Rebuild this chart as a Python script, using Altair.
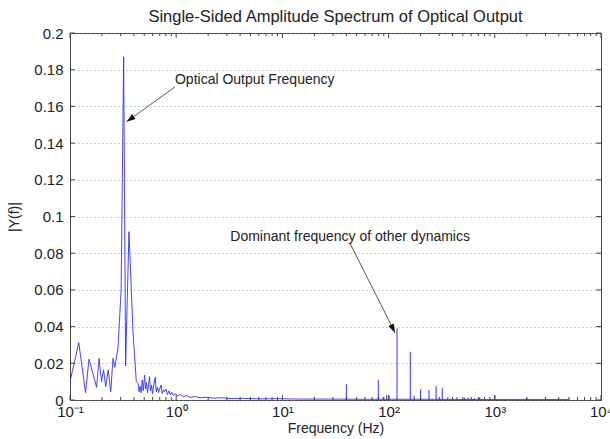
import altair as alt
import pandas as pd

# ---------------- data ----------------
# continuous part of the single-sided spectrum: frequency (Hz) and |Y(f)|
freq = [0.100, 0.121, 0.140, 0.151, 0.178, 0.188, 0.198, 0.207, 0.217, 0.229,
        0.242, 0.254, 0.264, 0.283, 0.303, 0.320, 0.334, 0.359, 0.392, 0.421,
        0.438, 0.447, 0.457, 0.467, 0.479, 0.490, 0.504, 0.515, 0.526, 0.537,
        0.549, 0.561, 0.573, 0.586, 0.599, 0.618, 0.635, 0.648, 0.667, 0.681,
        0.704, 0.722, 0.738, 0.759, 0.775, 0.801, 0.827, 0.854, 0.882, 0.911,
        0.941, 0.983, 1.026, 1.095, 1.168, 1.246, 1.358, 1.513, 1.685, 1.918,
        2.230, 2.650, 3.288, 4.351, 6.012, 9.254, 14.24, 27.20, 51.93, 189.3,
        690.2, 5000.0]
amp = [0.0100, 0.0312, 0.0040, 0.0222, 0.0069, 0.0227, 0.0100, 0.0164, 0.0073, 0.0164,
       0.0045, 0.0227, 0.0178, 0.0282, 0.0600, 0.1870, 0.0185, 0.0917, 0.0372, 0.0100,
       0.0090, 0.0045, 0.0075, 0.0040, 0.0109, 0.0050, 0.0136, 0.0060, 0.0095, 0.0040,
       0.0085, 0.0127, 0.0050, 0.0080, 0.0035, 0.0090, 0.0124, 0.0045, 0.0070, 0.0040,
       0.0065, 0.0082, 0.0035, 0.0055, 0.0045, 0.0060, 0.0030, 0.0050, 0.0028, 0.0042,
       0.0025, 0.0035, 0.0022, 0.0030, 0.0018, 0.0024, 0.0015, 0.0019, 0.0012, 0.0015,
       0.0010, 0.0012, 0.0008, 0.0009, 0.0006, 0.0007, 0.0005, 0.0005, 0.0004, 0.0004,
       0.0003, 0.0003]

# narrow spectral lines (harmonics of "other dynamics")
spike_freq = [40, 80, 89, 96, 101, 120, 160, 174, 200, 240, 280, 320,
              360, 400, 440, 520, 560, 640, 720, 800, 1000, 2000]
spike_amp = [0.0087, 0.0109, 0.0016, 0.0027, 0.0022, 0.0390, 0.0263, 0.0022, 0.0058,
             0.0055, 0.0076, 0.0064, 0.0014, 0.0012, 0.0015, 0.0012, 0.0013, 0.0011,
             0.0014, 0.0013, 0.0025, 0.0012]

# axes
x_major = [0.1, 1, 10, 100, 1000, 10000]
x_labels = ["10⁻¹", "10⁰", "10¹", "10²", "10³", "10⁴"]
x_minor = [m * d for d in [0.1, 1, 10, 100, 1000] for m in [2, 3, 4, 5, 6, 7, 8, 9]]
y_ticks = [0, 0.02, 0.04, 0.06, 0.08, 0.1, 0.12, 0.14, 0.16, 0.18, 0.2]

# annotations
ann_text = ["Optical Output Frequency", "Dominant frequency of other dynamics"]
ann_text_f = [0.974, 584.0]
ann_text_a = [0.1744, 0.0888]
arrow_f1 = [0.974, 43.3]
arrow_a1 = [0.1706, 0.0854]
arrow_f2 = [0.342, 114.9]
arrow_a2 = [0.1517, 0.0367]
arrow_angle = [234.3, 153.3]

TITLE = "Single-Sided Amplitude Spectrum of Optical Output"
XTITLE = "Frequency (Hz)"
YTITLE = "|Y(f)|"

# ---------------- chart ----------------
FONT = "Liberation Sans"
TXT = "#222222"
W, H = 531, 367

xscale = alt.Scale(type="log", domain=[0.1, 10000], nice=False)
yscale = alt.Scale(domain=[0, 0.2], nice=False, zero=True)

expr = ""
for v, lab in zip(x_major[:-1], x_labels[:-1]):
    expr += f"datum.value < {v * 3} ? '{lab}' : "
expr += f"'{x_labels[-1]}'"

xaxis = alt.Axis(values=x_major, labelExpr=expr, grid=False, ticks=False, domain=False,
                 labelFont=FONT, labelFontSize=15, labelColor=TXT, labelPadding=4,
                 labelFlush=False, labelOverlap=False,
                 title=XTITLE, titleFont=FONT, titleFontSize=14, titleFontWeight="normal",
                 titleColor=TXT, titlePadding=2)
yaxis = alt.Axis(values=y_ticks, format=".2~f", grid=True, gridDash=[1, 3],
                 gridColor="#888888", gridWidth=0.8, ticks=False, domain=False,
                 labelFont=FONT, labelFontSize=15, labelColor=TXT, labelPadding=7,
                 labelFlush=False, labelOverlap=False,
                 title=YTITLE, titleFont=FONT, titleFontSize=14, titleFontWeight="normal",
                 titleColor=TXT, titlePadding=12)


def ex(field="f"):
    return alt.X(f"{field}:Q", scale=xscale, axis=xaxis)


def ey(field="a"):
    return alt.Y(f"{field}:Q", scale=yscale, axis=yaxis)


df_line = pd.DataFrame({"f": freq, "a": amp})
df_spk = pd.DataFrame({"f": spike_freq, "a": spike_amp})
df_xmaj = pd.DataFrame({"f": x_major})
df_xmin = pd.DataFrame({"f": x_minor})
df_y = pd.DataFrame({"a": y_ticks})
df_txt = pd.DataFrame({"f": ann_text_f, "a": ann_text_a, "label": ann_text})
df_arr = pd.DataFrame({"f": arrow_f1, "a": arrow_a1, "f2": arrow_f2, "a2": arrow_a2,
                       "ang": arrow_angle})

BLUE = "#3030ff"
line = alt.Chart(df_line).mark_line(color=BLUE, strokeWidth=0.9, clip=True).encode(
    x=ex(), y=ey())
spikes = alt.Chart(df_spk).mark_rule(color=BLUE, strokeWidth=1).encode(
    x=ex(), y=ey(), y2=alt.datum(0))

TICK = "#444444"
tb_major = alt.Chart(df_xmaj).mark_rule(color=TICK).encode(
    x=ex(), y=alt.value(H), y2=alt.value(H - 5))
tt_major = alt.Chart(df_xmaj).mark_rule(color=TICK).encode(
    x=ex(), y=alt.value(0), y2=alt.value(5))
tb_minor = alt.Chart(df_xmin).mark_rule(color=TICK).encode(
    x=ex(), y=alt.value(H), y2=alt.value(H - 3))
tt_minor = alt.Chart(df_xmin).mark_rule(color=TICK).encode(
    x=ex(), y=alt.value(0), y2=alt.value(3))
tl = alt.Chart(df_y).mark_rule(color=TICK).encode(
    y=ey(), x=alt.value(0), x2=alt.value(5))
tr = alt.Chart(df_y).mark_rule(color=TICK).encode(
    y=ey(), x=alt.value(W), x2=alt.value(W - 5))

arrow_lines = alt.Chart(df_arr).mark_rule(color="#555555", strokeWidth=1).encode(
    x=ex(), y=ey(), x2="f2:Q", y2="a2:Q")
arrow_heads = alt.Chart(df_arr).mark_point(
    shape="M0,0L0.35,1L-0.35,1Z", filled=True, size=300, color="#111111",
    opacity=1, strokeWidth=0).encode(
    x=ex("f2"), y=ey("a2"), angle=alt.Angle("ang:Q", scale=None))

txt1 = alt.Chart(df_txt.iloc[[0]]).mark_text(
    align="left", baseline="middle", font=FONT, fontSize=14, color=TXT).encode(
    x=ex(), y=ey(), text="label:N")
txt2 = alt.Chart(df_txt.iloc[[1]]).mark_text(
    align="right", baseline="middle", font=FONT, fontSize=14, color=TXT).encode(
    x=ex(), y=ey(), text="label:N")

chart = alt.layer(
    line, spikes, tb_major, tt_major, tb_minor, tt_minor, tl, tr,
    arrow_lines, arrow_heads, txt1, txt2
).properties(
    width=W, height=H,
    title=alt.Title(TITLE, font=FONT, fontSize=16.5, fontWeight="normal", color=TXT,
                    anchor="middle", frame="group", offset=1),
    padding={"left": 70, "top": 33, "right": 9, "bottom": 39},
    autosize=alt.AutoSizeParams(type="none"),
    background="white",
).configure_view(stroke="#444444", strokeWidth=1)

chart.save("out.html", embed_options={"renderer": "svg", "actions": False})
